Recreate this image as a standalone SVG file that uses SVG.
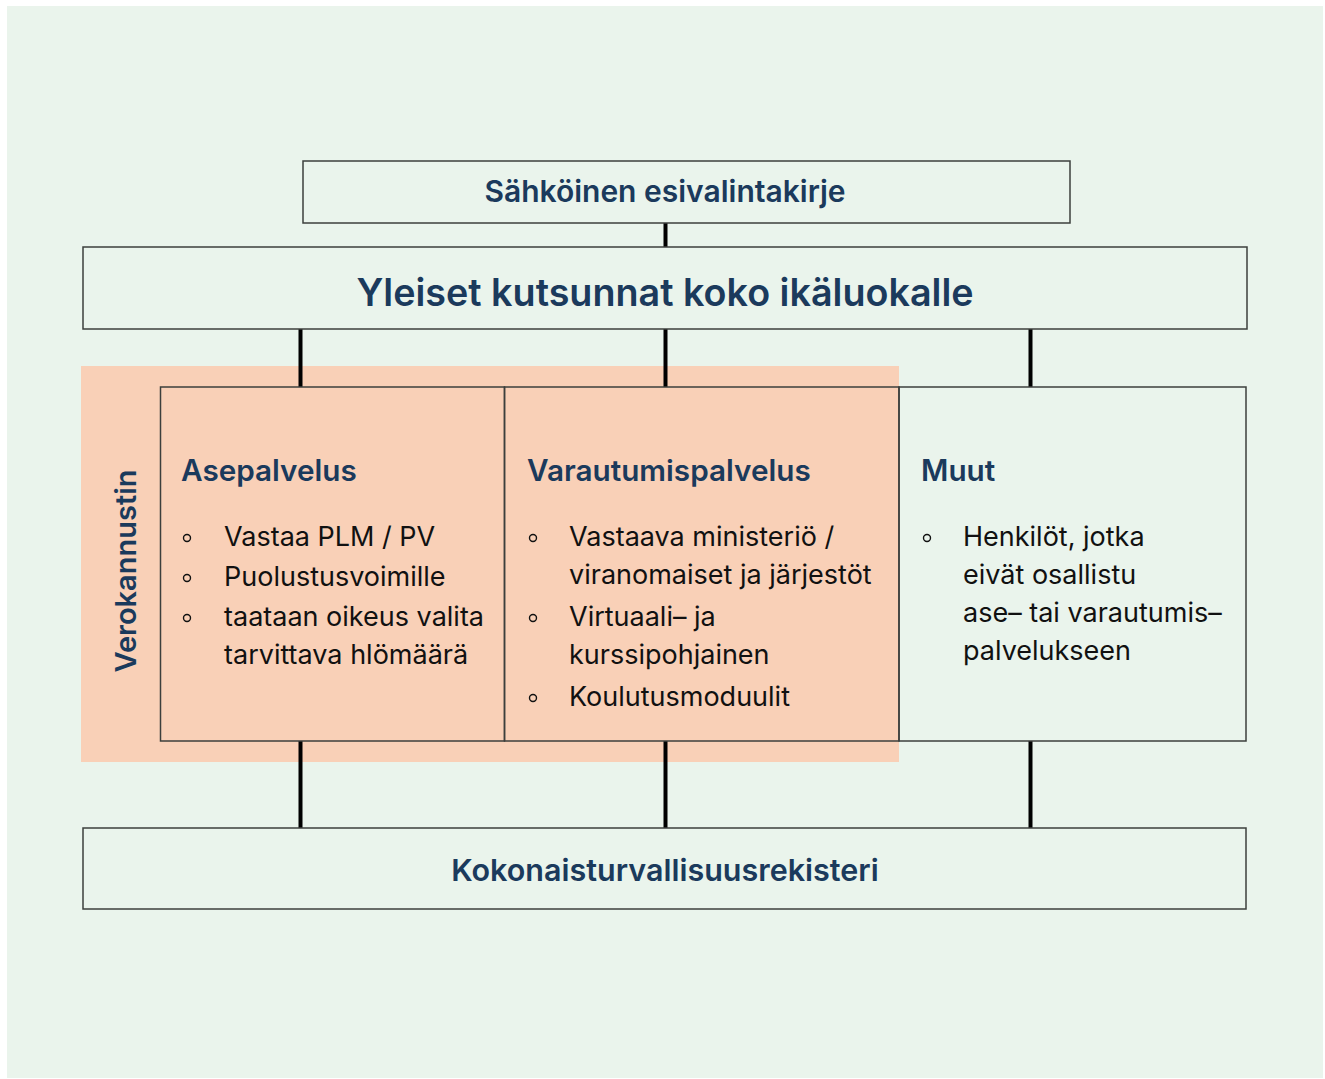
<svg xmlns="http://www.w3.org/2000/svg" width="1325" height="1079" viewBox="0 0 1325 1079">
<style>
.box{fill:none;stroke:#3c3f3c;stroke-width:1.5}
.conn{stroke:#000;stroke-width:4;fill:none}
.h{font-family:Inter,"Noto Sans",sans-serif;font-weight:600;fill:#1b3a5c}
.b{font-family:Inter,"Noto Sans",sans-serif;font-weight:400;fill:#111;font-size:27px}
.dot{fill:none;stroke:#111;stroke-width:1.4}
</style>
<rect x="0" y="0" width="1325" height="1079" fill="#fff"/>
<rect x="7" y="6" width="1316" height="1072" fill="#eaf4ec"/>
<rect x="81" y="366" width="818" height="396" fill="#f9d0b7"/>
<g id="connectors">
<line class="conn" x1="665.5" y1="223" x2="665.5" y2="247"/>
<line class="conn" x1="300.5" y1="329" x2="300.5" y2="387"/>
<line class="conn" x1="665.5" y1="329" x2="665.5" y2="387"/>
<line class="conn" x1="1030.5" y1="329" x2="1030.5" y2="387"/>
<line class="conn" x1="300.5" y1="741" x2="300.5" y2="828"/>
<line class="conn" x1="665.5" y1="741" x2="665.5" y2="828"/>
<line class="conn" x1="1030.5" y1="741" x2="1030.5" y2="828"/>
</g>
<g id="esivalinta">
<rect class="box" x="303" y="161" width="767" height="62"/>
<text class="h" x="665" y="202" font-size="30" text-anchor="middle">Sähköinen esivalintakirje</text>
</g>
<g id="yleiset">
<rect class="box" x="83" y="247" width="1164" height="82"/>
<text class="h" x="665" y="306" font-size="37.7" text-anchor="middle">Yleiset kutsunnat koko ikäluokalle</text>
</g>
<g id="verokannustin">
<text class="h" x="0" y="0" font-size="29" text-anchor="middle" transform="translate(136,571) rotate(-90)">Verokannustin</text>
</g>
<g id="asepalvelus">
<rect class="box" x="160.5" y="387" width="344" height="354" stroke="#111"/>
<text class="h" x="181" y="481" font-size="29.7">Asepalvelus</text>
<circle class="dot" cx="187" cy="538" r="3.5"/>
<circle class="dot" cx="187" cy="578" r="3.5"/>
<circle class="dot" cx="187" cy="618" r="3.5"/>
<text class="b" x="224" y="546">Vastaa PLM / PV</text>
<text class="b" x="224" y="586">Puolustusvoimille</text>
<text class="b" x="224" y="626">taataan oikeus valita</text>
<text class="b" x="224" y="664">tarvittava hlömäärä</text>
</g>
<g id="varautumispalvelus">
<rect class="box" x="504.5" y="387" width="394.5" height="354"/>
<text class="h" x="527" y="481" font-size="29.7">Varautumispalvelus</text>
<circle class="dot" cx="533" cy="538" r="3.5"/>
<circle class="dot" cx="533" cy="618" r="3.5"/>
<circle class="dot" cx="533" cy="698" r="3.5"/>
<text class="b" x="569" y="546">Vastaava ministeriö /</text>
<text class="b" x="569" y="584">viranomaiset ja järjestöt</text>
<text class="b" x="569" y="626">Virtuaali– ja</text>
<text class="b" x="569" y="664">kurssipohjainen</text>
<text class="b" x="569" y="706">Koulutusmoduulit</text>
</g>
<g id="muut">
<rect class="box" x="899" y="387" width="347" height="354"/>
<text class="h" x="921" y="481" font-size="29.7">Muut</text>
<circle class="dot" cx="927" cy="538" r="3.5"/>
<text class="b" x="963" y="546">Henkilöt, jotka</text>
<text class="b" x="963" y="584">eivät osallistu</text>
<text class="b" x="963" y="622">ase– tai varautumis–</text>
<text class="b" x="963" y="660">palvelukseen</text>
</g>
<g id="rekisteri">
<rect class="box" x="83" y="828" width="1163" height="81"/>
<text class="h" x="665" y="881" font-size="30.5" text-anchor="middle">Kokonaisturvallisuusrekisteri</text>
</g>
</svg>
